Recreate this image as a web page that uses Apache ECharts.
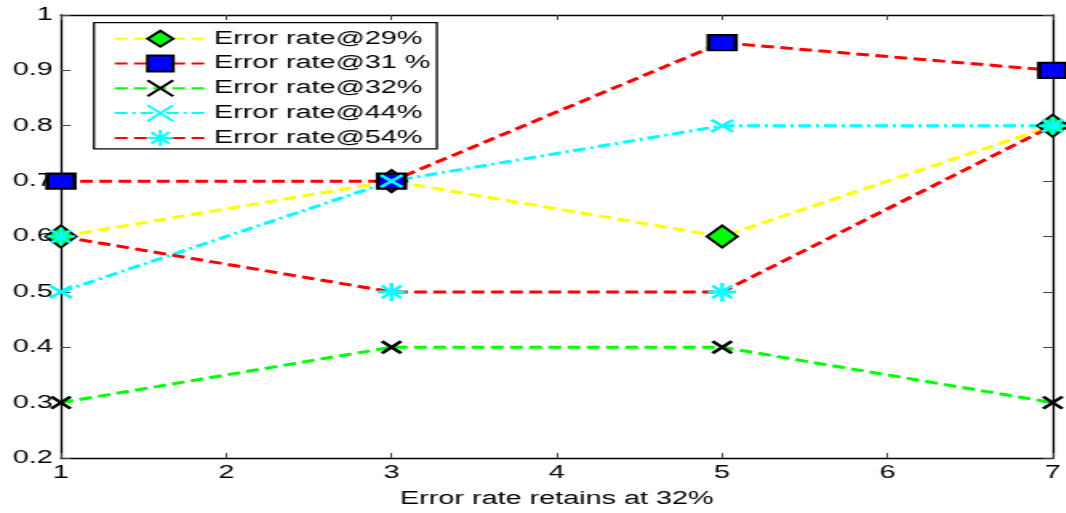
<!DOCTYPE html>
<html>
<head>
<meta charset="utf-8">
<title>Error rate retains at 32%</title>
<script src="https://cdn.jsdelivr.net/npm/echarts@6/dist/echarts.min.js"></script>
<style>
  html, body { margin: 0; padding: 0; background: #fff; overflow: hidden; }
  /* the figure is laid out narrow and widened horizontally */
  #chart { width: 666.25px; height: 513px; transform: scaleX(1.6); transform-origin: 0 0; }
</style>
</head>
<body>
<div id="chart"></div>
<script>
// x positions of the measurements
const xValues = [1, 3, 5, 7];

// series values
const rate29 = [0.6, 0.7, 0.6, 0.8];
const rate31 = [0.7, 0.7, 0.95, 0.9];
const rate32 = [0.3, 0.4, 0.4, 0.3];
const rate44 = [0.5, 0.7, 0.8, 0.8];
const rate54 = [0.6, 0.5, 0.5, 0.8];

// legend names
const seriesNames = ['Error rate@29%', 'Error rate@31 %', 'Error rate@32%', 'Error rate@44%', 'Error rate@54%'];

// axis tick labels
const xTicks = [1, 2, 3, 4, 5, 6, 7];
const yTicks = [0.2, 0.3, 0.4, 0.5, 0.6, 0.7, 0.8, 0.9, 1];

const pts = vals => xValues.map((x, i) => [x, vals[i]]);

const crossPath = 'path://M0,0L10,10M10,0L0,10';
const starPath = 'path://M5,0L5,10M0,5L10,5M1.5,1.5L8.5,8.5M8.5,1.5L1.5,8.5';

const dash = [8, 4];
const dashDot = [8, 3, 2, 3];
const FONT = 'Liberation Sans, Arial, Helvetica, sans-serif';

function lineSeries(name, vals, color, lineType, symbol, size, itemStyle) {
  return {
    type: 'line',
    name: name,
    data: pts(vals),
    symbol: symbol,
    symbolSize: size,
    showAllSymbol: true,
    lineStyle: { color: color, width: 3, type: lineType },
    itemStyle: itemStyle,
    emphasis: { disabled: true },
    animation: false
  };
}

const chart = echarts.init(document.getElementById('chart'), null, { renderer: 'canvas' });

const axisCommon = {
  axisLine: { show: true, onZero: false, lineStyle: { color: '#000', width: 1.3 } },
  splitLine: { show: false }
};

chart.setOption({
  backgroundColor: '#fff',
  animation: false,
  grid: { left: 38.1, right: 5, top: 15, bottom: 49, containLabel: false },
  xAxis: [
    Object.assign({}, axisCommon, {
      type: 'value', position: 'bottom', min: xTicks[0], max: xTicks[xTicks.length - 1], interval: 1,
      name: 'Error rate retains at 32%', nameLocation: 'middle', nameGap: 32,
      nameTextStyle: { color: '#000', fontSize: 18, fontFamily: FONT },
      axisTick: { show: true, inside: true, length: 5, lineStyle: { color: '#444', width: 1 } },
      axisLabel: { color: '#000', fontSize: 18, fontFamily: FONT, margin: 6,
        formatter: v => xTicks.includes(v) ? String(v) : '' }
    }),
    Object.assign({}, axisCommon, {
      type: 'value', position: 'top', min: xTicks[0], max: xTicks[xTicks.length - 1], interval: 1,
      axisTick: { show: true, inside: true, length: 5, lineStyle: { color: '#444', width: 1 } },
      axisLabel: { show: false }
    })
  ],
  yAxis: [
    Object.assign({}, axisCommon, {
      type: 'value', position: 'left', min: yTicks[0], max: yTicks[yTicks.length - 1], interval: 0.1,
      axisTick: { show: true, inside: true, length: 6, lineStyle: { color: '#444', width: 1 } },
      axisLabel: { color: '#000', fontSize: 18, fontFamily: FONT, margin: 5,
        formatter: v => String(+v.toFixed(1)) }
    }),
    Object.assign({}, axisCommon, {
      type: 'value', position: 'right', min: yTicks[0], max: yTicks[yTicks.length - 1], interval: 0.1,
      axisTick: { show: true, inside: true, length: 6, lineStyle: { color: '#444', width: 1 } },
      axisLabel: { show: false }
    })
  ],
  legend: {
    orient: 'vertical',
    left: 58.75,
    top: 22.7,
    data: seriesNames,
    itemWidth: 57,
    itemHeight: 20,
    itemGap: 6.8,
    padding: [7, 4, 2, 12],
    backgroundColor: '#fff',
    borderColor: '#000',
    borderWidth: 1.3,
    borderRadius: 0,
    selectedMode: false,
    textStyle: { color: '#000', fontSize: 18, fontFamily: FONT }
  },
  series: [
    lineSeries(seriesNames[0], rate29, '#ffff00', dash, 'diamond', [19, 22],
      { color: '#00ff00', borderColor: '#000', borderWidth: 2 }),
    lineSeries(seriesNames[1], rate31, '#ff0000', dash, 'rect', [17, 15],
      { color: '#0000ff', borderColor: '#000', borderWidth: 2.5 }),
    lineSeries(seriesNames[2], rate32, '#00ff00', dash, crossPath, [12, 12],
      { color: 'rgba(0,0,0,0)', borderColor: '#000', borderWidth: 2.5 }),
    lineSeries(seriesNames[3], rate44, '#00ffff', dashDot, crossPath, [13.5, 12],
      { color: 'rgba(0,0,0,0)', borderColor: '#00ffff', borderWidth: 2.5 }),
    lineSeries(seriesNames[4], rate54, '#ff0000', dash, starPath, [17.5, 18],
      { color: 'rgba(0,0,0,0)', borderColor: '#00ffff', borderWidth: 2.5 })
  ]
});
</script>
</body>
</html>
